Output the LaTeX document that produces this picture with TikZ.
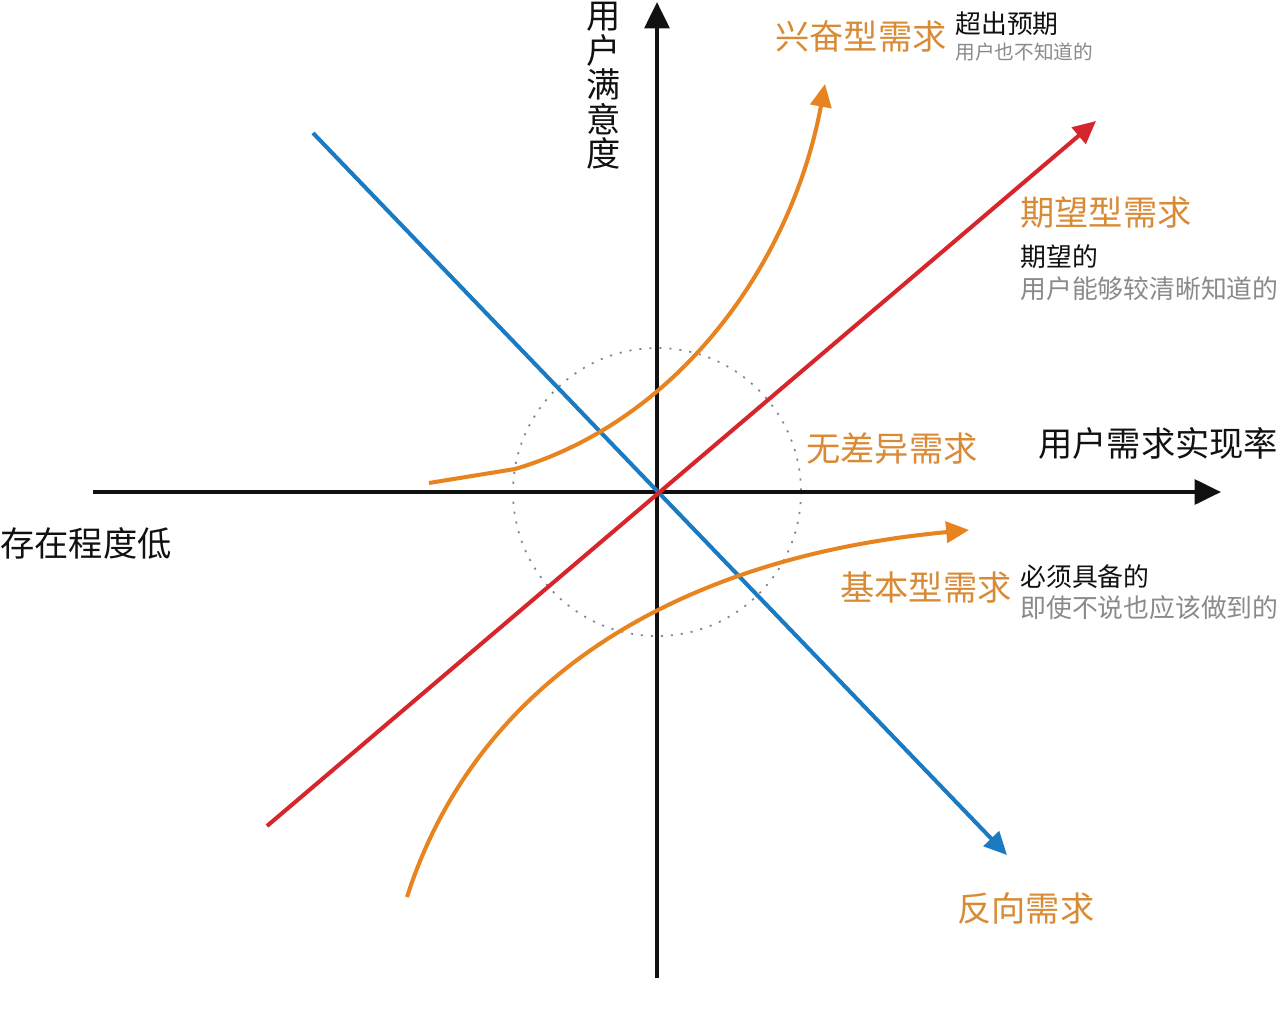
\documentclass[tikz,border=0pt]{standalone}
\usepackage{fontspec}
\setmainfont{Noto Sans CJK SC}
\usetikzlibrary{arrows.meta}
\definecolor{ax}{HTML}{111111}
\definecolor{org}{HTML}{E8841F}
\definecolor{orgtxt}{HTML}{D98A35}
\definecolor{redl}{HTML}{D7262B}
\definecolor{bluel}{HTML}{1A7BC2}
\definecolor{graytxt}{HTML}{8A8A8A}
\definecolor{dotc}{HTML}{7E8A96}
\tikzset{
  axisline/.style={draw=ax,line width=2.4pt,-{Triangle[length=15pt,width=14pt]}},
  curveline/.style={line width=2.3pt,-{Triangle[length=13pt,width=12pt]}},
  bigtitle/.style={font=\fontsize{19.5pt}{21pt}\selectfont,text=orgtxt,inner sep=0pt,anchor=west},
  axislabel/.style={font=\fontsize{19.5pt}{21pt}\selectfont,text=ax,inner sep=0pt,anchor=west},
  subblack/.style={font=\fontsize{14.7pt}{16pt}\selectfont,text=ax,inner sep=0pt,anchor=west},
  subgray/.style={font=\fontsize{14.7pt}{16pt}\selectfont,text=graytxt,inner sep=0pt,anchor=west},
  smallgray/.style={font=\fontsize{11.2pt}{13pt}\selectfont,text=graytxt,inner sep=0pt,anchor=west},
}
\begin{document}
\begin{tikzpicture}[x=0.02cm,y=-0.02cm]
\useasboundingbox[fill=white] (0,0) rectangle (1280,1024);
% coordinates
\coordinate (o) at (657,492);
\coordinate (xs) at (93,492);
\coordinate (xe) at (1221,492);
\coordinate (ys) at (657,978);
\coordinate (ye) at (657,2);
\coordinate (bs) at (313,133);
\coordinate (be) at (1007,855);
\coordinate (rs) at (267,826);
\coordinate (re) at (1096,121);
\coordinate (us) at (429,483);
\coordinate (uk) at (515,469);
\coordinate (ue) at (825,84);
\coordinate (ls) at (407,897);
\coordinate (le) at (969,530);
% dotted circle
\draw[dotc,line width=1pt,dash pattern=on 1.2pt off 4.5pt] (o) circle[radius=144];
% axes
\draw[axisline] (xs) -- (xe);
\draw[axisline] (ys) -- (ye);
% lines
\draw[curveline,draw=bluel] (bs) -- (be);
\draw[curveline,draw=redl] (rs) -- (re);
\draw[curveline,draw=org] (us) -- (uk) .. controls (680,420) and (792,262) .. (ue);
\draw[curveline,draw=org] (ls) .. controls (470,700) and (650,560) .. (le);
% labels
\node[font=\fontsize{19.5pt}{19.6pt}\selectfont,text=ax,inner sep=0pt,align=center] (ylab) at (604,86) {用\\户\\满\\意\\度};
\node[axislabel] (xlab) at (1038,443) {用户需求实现率};
\node[axislabel] (low) at (0,543) {存在程度低};
\node[bigtitle] (exc) at (775,37) {兴奋型需求};
\node[subblack] (exc1) at (955,24) {超出预期};
\node[smallgray] (exc2) at (955,52) {用户也不知道的};
\node[bigtitle] (exp) at (1020,213) {期望型需求};
\node[subblack] (exp1) at (1020,257) {期望的};
\node[subgray] (exp2) at (1020,289) {用户能够较清晰知道的};
\node[bigtitle] (ind) at (806,448) {无差异需求};
\node[bigtitle] (bas) at (840,588) {基本型需求};
\node[subblack] (bas1) at (1020,577) {必须具备的};
\node[subgray] (bas2) at (1020,608) {即使不说也应该做到的};
\node[bigtitle] (rev) at (957,908) {反向需求};
\end{tikzpicture}
\end{document}
